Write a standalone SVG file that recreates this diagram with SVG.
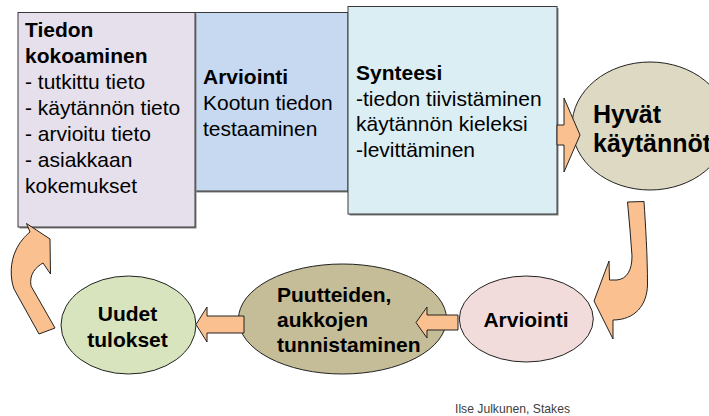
<svg xmlns="http://www.w3.org/2000/svg" width="709" height="416" viewBox="0 0 709 416">
<style>
.box{stroke:#3a3a3a;stroke-width:1}
.shadow{fill:#7f7f7f}
.ell{stroke:#222;stroke-width:1}
.arrow{fill:#fac090;stroke:#222;stroke-width:1;stroke-linejoin:miter}
.t{font-family:"Liberation Sans",Arial,sans-serif;font-size:21px;fill:#000}
.b{font-weight:bold}
.big{font-family:"Liberation Sans",Arial,sans-serif;font-size:25px;font-weight:bold;fill:#000}
.foot{font-family:"Liberation Sans",Arial,sans-serif;font-size:13.5px;fill:#404040}
</style>
<rect width="709" height="416" fill="#ffffff"/>
<g id="nodes">
  <g id="arviointi-box">
    <rect class="shadow" x="196.5" y="14.5" width="153" height="178"/>
    <rect class="box" x="195" y="12.5" width="153" height="178.5" fill="#c6d9f1"/>
    <text class="t b" x="203" y="84">Arviointi</text>
    <text class="t" x="203" y="110">Kootun tiedon</text>
    <text class="t" x="203" y="136">testaaminen</text>
  </g>
  <g id="tiedon-kokoaminen">
    <rect class="shadow" x="19.5" y="14" width="177" height="214.5"/>
    <rect class="box" x="18" y="12.5" width="177" height="214.5" fill="#e5e0ec"/>
    <text class="t b" x="25" y="36.5">Tiedon</text>
    <text class="t b" x="25" y="62.5">kokoaminen</text>
    <text class="t" x="25" y="88.5">- tutkittu tieto</text>
    <text class="t" x="25" y="114.5">- käytännön tieto</text>
    <text class="t" x="25" y="140.5">- arvioitu tieto</text>
    <text class="t" x="25" y="166.5">- asiakkaan</text>
    <text class="t" x="25" y="192.5">kokemukset</text>
  </g>
  <g id="synteesi">
    <rect class="shadow" x="349.5" y="8" width="209" height="207.5"/>
    <rect class="box" x="348" y="6.5" width="209" height="207.5" fill="#dbeef4"/>
    <text class="t b" x="356" y="80">Synteesi</text>
    <text class="t" x="356" y="105.7">-tiedon tiivistäminen</text>
    <text class="t" x="356" y="131.4">käytännön kieleksi</text>
    <text class="t" x="356" y="157">-levittäminen</text>
  </g>
  <g id="hyvat-kaytannot">
    <ellipse class="ell" cx="650" cy="126" rx="78" ry="64" fill="#ddd9c3"/>
    <text class="big" x="593" y="123">Hyvät</text>
    <text class="big" x="593" y="152">käytännöt</text>
  </g>
  <g id="arviointi">
    <ellipse class="ell" cx="526.3" cy="319" rx="67" ry="43" fill="#f2dcdb"/>
    <text class="t b" x="526" y="327.3" text-anchor="middle">Arviointi</text>
  </g>
  <g id="puutteiden-tunnistaminen">
    <ellipse class="ell" cx="342.5" cy="319" rx="104" ry="55" fill="#c4bd97"/>
    <text class="t b" x="277" y="301.7">Puutteiden,</text>
    <text class="t b" x="277" y="326.7">aukkojen</text>
    <text class="t b" x="277" y="351.7">tunnistaminen</text>
  </g>
  <g id="uudet-tulokset">
    <ellipse class="ell" cx="128.5" cy="325" rx="67.5" ry="49" fill="#d7e4bd"/>
    <text class="t b" x="127.5" y="320.7" text-anchor="middle">Uudet</text>
    <text class="t b" x="127.5" y="346.7" text-anchor="middle">tulokset</text>
  </g>
</g>
<g id="connectors">
  <polygon class="arrow" points="557,125 564,125 564,98 580,135 564,172 564,145 557,145"/>
  <path class="arrow" d="M627.5,202 L644,201.5 C645.5,225 647.5,255 647.5,285 C647,305 635,320 613,320 L613,339 L594,301 L609,261 L609.5,280 L617,280 C627,279 632,270 632,256 C631,238 629,220 627.5,202 Z"/>
  <polygon class="arrow" points="458,315 427,315 427,307 416,322.5 427,338 427,330 458,330"/>
  <polygon class="arrow" points="244,316 207,316 207,307 196,324.5 207,342 207,333 244,333"/>
  <path class="arrow" d="M26.5,223.5 L50,239 L50.5,274 L43,263 C36,267 29,274 31,286 L55,328 L39,334 L14,289 C10,278 10,262 16,250 C19,243 25,236 30,232 Z"/>
</g>
<text class="foot" x="455" y="413" textLength="115" lengthAdjust="spacingAndGlyphs">Ilse Julkunen, Stakes</text>
</svg>
